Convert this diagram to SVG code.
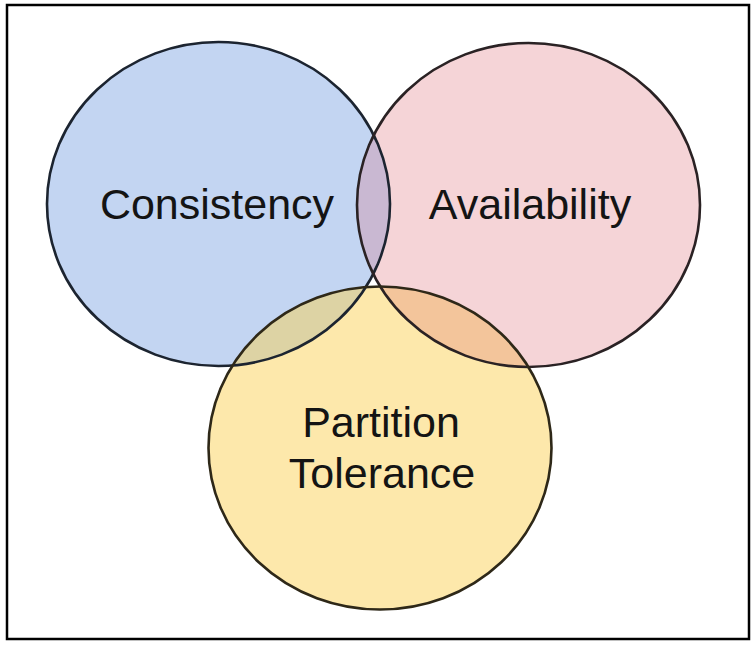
<svg xmlns="http://www.w3.org/2000/svg" width="751" height="645" viewBox="0 0 751 645">
  <style>
    .lbl { font-family: "Liberation Sans", Arial, sans-serif; font-size: 43px; fill: #141414; text-anchor: middle; }
    .ring { fill: none; stroke-width: 2.6; }
  </style>
  <defs>
    <ellipse id="eC" cx="218.5" cy="204" rx="171.5" ry="162"/>
    <ellipse id="eA" cx="528.5" cy="205" rx="171.5" ry="162"/>
    <ellipse id="eP" cx="380" cy="448" rx="171.5" ry="161.5"/>
    <clipPath id="clipA"><use href="#eA"/></clipPath>
    <clipPath id="clipP"><use href="#eP"/></clipPath>
  </defs>
  <rect x="0" y="0" width="751" height="645" fill="#ffffff"/>
  <rect x="7" y="5" width="742" height="634" fill="#ffffff" stroke="#000000" stroke-width="2.5"/>

  <g id="consistency">
    <use href="#eC" fill="#c3d5f2"/>
  </g>
  <g id="availability">
    <use href="#eA" fill="#f5d4d7"/>
  </g>
  <g id="partition-tolerance">
    <use href="#eP" fill="#fde8ab"/>
  </g>

  <g id="overlaps">
    <use href="#eC" fill="#c9b8d2" clip-path="url(#clipA)"/>
    <use href="#eC" fill="#ddd3a4" clip-path="url(#clipP)"/>
    <use href="#eA" fill="#f3c59b" clip-path="url(#clipP)"/>
  </g>

  <g id="outlines">
    <use href="#eC" class="ring" stroke="#1c2430"/>
    <use href="#eA" class="ring" stroke="#2a2224"/>
    <use href="#eP" class="ring" stroke="#2e2818"/>
  </g>

  <g id="labels">
    <text class="lbl" x="217" y="219">Consistency</text>
    <text class="lbl" x="530" y="219">Availability</text>
    <text class="lbl" x="381" y="437">Partition</text>
    <text class="lbl" x="382" y="488">Tolerance</text>
  </g>
</svg>
